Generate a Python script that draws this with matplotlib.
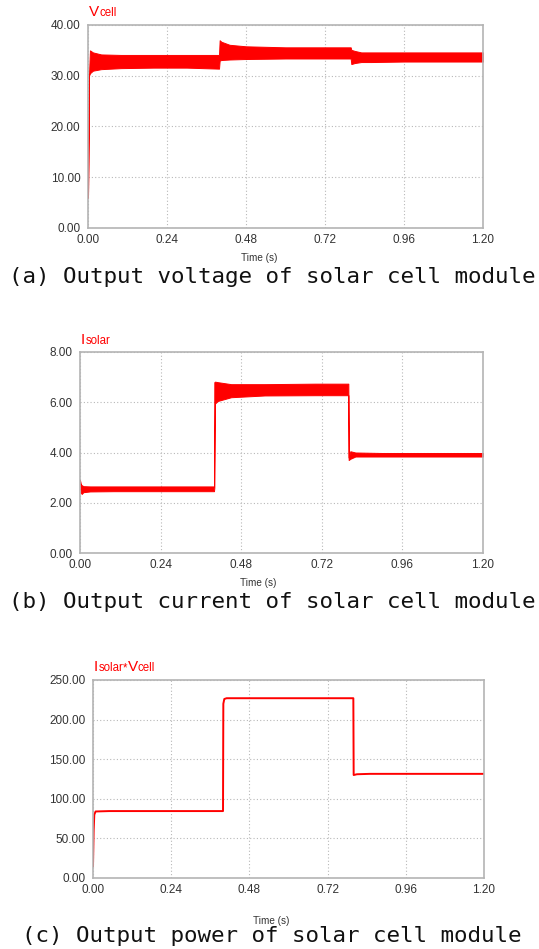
import matplotlib
matplotlib.use("Agg")
import matplotlib.pyplot as plt

W, H = 539, 949
RED = "#ff0000"

# ---------------- data ----------------
time_ticks = [0.00, 0.24, 0.48, 0.72, 0.96, 1.20]

# Panel (a): Vcell ripple envelope
v_t  = [0.000, 0.001, 0.003, 0.006, 0.015, 0.040, 0.100, 0.200, 0.300, 0.398, 0.400, 0.405, 0.430, 0.480, 0.600, 0.720, 0.798, 0.800, 0.810, 0.830, 0.860, 0.960, 1.200]
v_hi = [6.0,   13.0,  30.0,  35.0,  34.6,  34.2,  34.1,  34.1,  34.1,  34.1,  37.0,  36.7,  36.1,  35.8,  35.6,  35.6,  35.6,  35.1,  34.9,  34.6,  34.6,  34.6,  34.6]
v_lo = [6.0,   13.0,  30.0,  30.5,  31.0,  31.3,  31.5,  31.6,  31.6,  31.4,  33.0,  33.1,  33.2,  33.3,  33.4,  33.4,  33.4,  32.3,  32.5,  32.7,  32.7,  32.8,  32.8]

# Panel (b): Isolar ripple envelope
i_t  = [0.000, 0.002, 0.005, 0.010, 0.030, 0.100, 0.300, 0.399, 0.400, 0.402, 0.410, 0.450, 0.550, 0.700, 0.799, 0.800, 0.805, 0.820, 0.900, 1.200]
i_hi = [2.90,  2.75,  2.70,  2.66,  2.65,  2.65,  2.65,  2.65,  6.80,  6.82,  6.80,  6.72,  6.72,  6.74,  6.74,  3.80,  4.05,  4.00,  3.98,  3.98]
i_lo = [2.90,  2.42,  2.35,  2.42,  2.45,  2.46,  2.46,  2.46,  2.60,  5.95,  6.05,  6.20,  6.27,  6.28,  6.28,  3.70,  3.75,  3.84,  3.84,  3.84]

# Panel (c): Isolar*Vcell
p_t   = [0.000, 0.002, 0.004, 0.008, 0.050, 0.200, 0.399, 0.400, 0.403, 0.410, 0.450, 0.600, 0.799, 0.800, 0.810, 0.850, 1.200]
p_val = [15.0,  60.0,  80.0,  84.0,  84.5,  84.5,  84.5,  220.0, 226.0, 227.0, 227.0, 227.0, 227.0, 130.0, 131.0, 131.5, 131.5]

v_ticks = [0, 10, 20, 30, 40]
i_ticks = [0, 2, 4, 6, 8]
p_ticks = [0, 50, 100, 150, 200, 250]

captions = ["(a) Output voltage of solar cell module",
            "(b) Output current of solar cell module",
            "(c) Output power of solar cell module"]

# ---------------- figure ----------------
fig = plt.figure(figsize=(W / 100, H / 100), dpi=100)
fig.patch.set_facecolor("white")

def px_axes(left, top, right, bottom):
    return fig.add_axes([left / W, 1 - bottom / H, (right - left) / W, (bottom - top) / H])

def style(ax, yticks):
    ax.set_xlim(0, 1.2)
    ax.set_ylim(yticks[0], yticks[-1])
    ax.set_xticks(time_ticks)
    ax.set_xticklabels([f"{t:.2f}" for t in time_ticks])
    ax.set_yticks(yticks)
    ax.set_yticklabels([f"{v:.2f}" for v in yticks])
    ax.tick_params(length=0, labelsize=8.5, labelcolor="#333333", pad=5.5)
    for lab in ax.get_xticklabels() + ax.get_yticklabels():
        lab.set_family("Liberation Sans")
    ax.tick_params(axis="x", pad=4)
    for s in ax.spines.values():
        s.set_color("#b4b4b4")
        s.set_linewidth(1.2)
    ax.grid(True, color="#b8b8b8", linestyle=(0, (1, 2)), linewidth=0.8)
    ax.set_axisbelow(True)

def ftext(x, y, s, **kw):
    return fig.text(x / W, 1 - y / H, s, **kw)

def rich_label(x, y, parts):
    renderer = fig.canvas.get_renderer()
    for s, size in parts:
        t = ftext(x, y, s, fontsize=size, color=RED, va="baseline", ha="left",
                  family="Liberation Sans")
        bb = t.get_window_extent(renderer)
        x = bb.x1

BIG, SMALL = 11.0, 8.3

# Panel (a)
ax1 = px_axes(88, 25, 483, 228)
style(ax1, v_ticks)
ax1.fill_between(v_t, v_lo, v_hi, color=RED, lw=0.7, edgecolor=RED)
rich_label(89, 16, [("V", BIG), ("cell", SMALL)])
ftext(259, 261, "Time (s)", fontsize=7.2, color="#333333", ha="center", va="baseline", family="Liberation Sans")

# Panel (b)
ax2 = px_axes(80, 352, 483, 553)
style(ax2, i_ticks)
ax2.fill_between(i_t, i_lo, i_hi, color=RED, lw=0.7, edgecolor=RED)
rich_label(81, 344, [("I", BIG), ("solar", SMALL)])
ftext(258, 586, "Time (s)", fontsize=7.2, color="#333333", ha="center", va="baseline", family="Liberation Sans")

# Panel (c)
ax3 = px_axes(93, 680, 484, 878)
style(ax3, p_ticks)
ax3.plot(p_t, p_val, color=RED, lw=1.4)
rich_label(94, 671, [("I", BIG), ("solar", SMALL), ("*", SMALL), ("V", BIG), ("cell", SMALL)])
ftext(271, 924, "Time (s)", fontsize=7.2, color="#333333", ha="center", va="baseline", family="Liberation Sans")

# Captions
for cap, yb in zip(captions, [283, 608, 942]):
    ftext(272, yb, cap, fontsize=16.2, color="#111111", ha="center", va="baseline",
          family="DejaVu Sans Mono")

fig.savefig("out.png", dpi=100, facecolor="white")
